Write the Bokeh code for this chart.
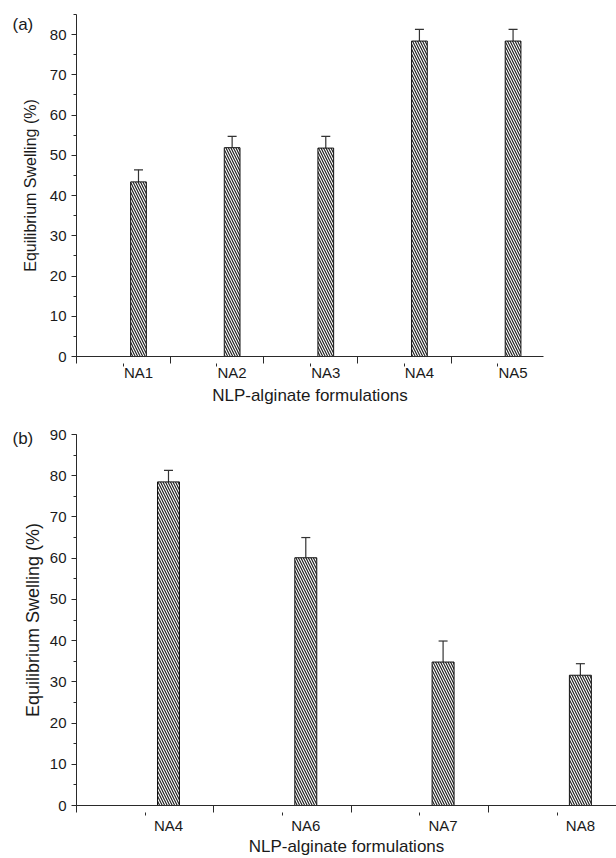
from bokeh.plotting import figure
from bokeh.models import (ColumnDataSource, FixedTicker, SingleIntervalTicker, LinearAxis,
                          Whisker, TeeHead, Title, Range1d)
from bokeh.embed import file_html
from bokeh.resources import INLINE

# ---- data ----
cats_a = ["NA1", "NA2", "NA3", "NA4", "NA5"]
swell_a = [43.4, 51.9, 51.8, 78.4, 78.4]
err_a = [3.0, 2.8, 2.9, 2.9, 2.9]

cats_b = ["NA4", "NA6", "NA7", "NA8"]
swell_b = [78.5, 60.1, 34.8, 31.6]
err_b = [2.8, 4.9, 5.1, 2.8]

x_label = "NLP-alginate formulations"
y_label = "Equilibrium Swelling (%)"

FONT = "Liberation Sans"
TXT = "#1a1a1a"
AX = "#2a2a2a"


def make_panel(cats, vals, errs, tag, height, x_lo, x_hi, y_hi, bar_w,
               right_border, bottom_border, ylabel_standoff, xlabel_font, ylabel_font,
               tick_standoff, xlabel_standoff, tag_standoff):
    n = len(cats)
    pos = list(range(1, n + 1))
    src = ColumnDataSource(dict(x=pos, top=vals,
                                upper=[v + e for v, e in zip(vals, errs)]))
    p = figure(width=616, height=height, x_range=Range1d(x_lo, x_hi),
               y_range=Range1d(0, y_hi), output_backend="svg", toolbar_location=None,
               min_border_left=76, min_border_right=right_border, min_border_top=14,
               min_border_bottom=bottom_border, x_axis_location=None)
    p.outline_line_color = None
    p.xgrid.visible = False
    p.ygrid.visible = False
    p.background_fill_color = "white"
    p.border_fill_color = "white"

    p.vbar(x="x", top="top", width=bar_w, source=src, fill_color="white",
           line_color="#111111", line_width=1, hatch_pattern="\\", hatch_scale=5,
           hatch_weight=1.2, hatch_color="#222222")
    p.add_layout(Whisker(base="x", lower="top", upper="upper", source=src,
                         line_color="#333333", line_width=1.2, lower_head=None,
                         upper_head=TeeHead(size=9, line_color="#333333", line_width=1.2)))

    # y axis
    ya = p.yaxis[0]
    ya.ticker = SingleIntervalTicker(interval=10, num_minor_ticks=2)
    ya.axis_label = y_label
    ya.axis_label_text_font = FONT
    ya.axis_label_text_font_style = "normal"
    ya.axis_label_text_font_size = ylabel_font
    ya.axis_label_text_color = TXT
    ya.axis_label_standoff = ylabel_standoff
    ya.major_label_text_font = FONT
    ya.major_label_text_font_size = "15px"
    ya.major_label_text_color = TXT
    ya.major_label_standoff = 5
    ya.major_tick_out = 5
    ya.major_tick_in = 0
    ya.minor_tick_out = 3
    ya.minor_tick_in = 0
    ya.axis_line_color = AX
    ya.major_tick_line_color = AX
    ya.minor_tick_line_color = AX

    # x axis 1: long tick marks at the category boundaries (no labels)
    bounds = [i + x_lo for i in range(0, n + 1)]
    mids = [b + 0.5 for b in bounds[:-1]]
    xt = LinearAxis(ticker=FixedTicker(ticks=[], minor_ticks=bounds))
    xt.major_tick_out = 0
    xt.major_tick_in = 0
    xt.minor_tick_out = 7
    xt.minor_tick_in = 0
    xt.axis_line_color = AX
    xt.minor_tick_line_color = AX
    p.add_layout(xt, "below")

    # x axis 2: category labels under the bars, short ticks halfway
    xl = LinearAxis(ticker=FixedTicker(ticks=pos, minor_ticks=mids))
    xl.major_label_overrides = {i + 1: c for i, c in enumerate(cats)}
    xl.major_label_text_font = FONT
    xl.major_label_text_font_size = "15px"
    xl.major_label_text_color = TXT
    xl.major_label_standoff = tick_standoff
    xl.major_tick_out = 0
    xl.major_tick_in = 0
    xl.minor_tick_out = 3
    xl.minor_tick_in = 0
    xl.minor_tick_line_color = AX
    xl.axis_line_color = None
    xl.axis_label = x_label
    xl.axis_label_text_font = FONT
    xl.axis_label_text_font_style = "normal"
    xl.axis_label_text_font_size = xlabel_font
    xl.axis_label_text_color = TXT
    xl.axis_label_standoff = xlabel_standoff
    p.add_layout(xl, "below")

    # panel tag "(a)" / "(b)" at the top-left corner
    kw = dict(text=tag, align="left", offset=-64, text_font=FONT,
              text_font_size="17px", text_font_style="normal", text_color=TXT,
              vertical_align="bottom")
    try:
        t = Title(standoff=tag_standoff, **kw)
    except Exception:
        t = Title(standoff=0, **kw)
    p.add_layout(t, "above")
    return p


pa = make_panel(cats_a, swell_a, err_a, "(a)", 420, 0.338, 5.325, 85, 0.168,
                73, 64, 8, "17px", "16px", -3, 2, -38)
pb = make_panel(cats_b, swell_b, err_b, "(b)", 438, 0.33, 4.263, 90, 0.16,
                0, 50, 4, "17px", "18px", 1, 0, -26)

open("out.html", "w").write(file_html([pa, pb], INLINE))
